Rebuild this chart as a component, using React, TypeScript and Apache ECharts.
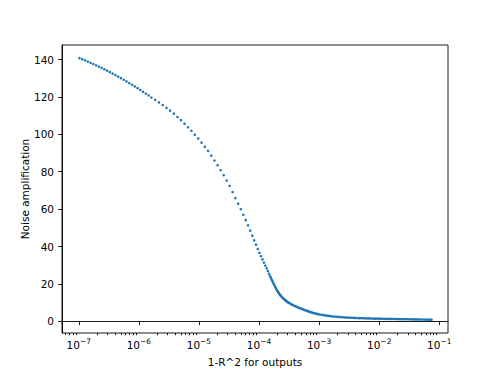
import { useEffect, useRef } from "react";
import * as echarts from "echarts";

// log10 of (1 - R^2)
const xLog10 = [
  -6.988, -6.942, -6.896, -6.850, -6.804, -6.758, -6.712, -6.666, -6.620, -6.574, -6.528, -6.482, -6.436,
  -6.390, -6.344, -6.298, -6.252, -6.206, -6.160, -6.114, -6.068, -6.022, -5.976, -5.930, -5.884, -5.838,
  -5.792, -5.728, -5.665, -5.602, -5.540, -5.479, -5.418, -5.358, -5.299, -5.240, -5.182, -5.125, -5.068,
  -5.012, -4.957, -4.902, -4.848, -4.795, -4.742, -4.690, -4.639, -4.588, -4.538, -4.489, -4.440, -4.392,
  -4.347, -4.303, -4.261, -4.221, -4.183, -4.147, -4.113, -4.081, -4.050, -4.021, -3.993, -3.967, -3.942,
  -3.918, -3.895, -3.873, -3.852, -3.832,
  -3.815, -3.803, -3.791, -3.779, -3.767, -3.755, -3.743, -3.731, -3.719, -3.707, -3.695, -3.683, -3.671,
  -3.659, -3.647, -3.635, -3.623, -3.611, -3.599, -3.587, -3.575, -3.563, -3.551, -3.539, -3.527, -3.515,
  -3.50, -3.48, -3.46, -3.44, -3.42, -3.40, -3.38, -3.36, -3.34, -3.32, -3.30, -3.28, -3.26, -3.24, -3.22,
  -3.20, -3.18, -3.16, -3.14, -3.12, -3.10, -3.08, -3.06, -3.04, -3.02,
  -2.99, -2.96, -2.93, -2.90, -2.87, -2.84, -2.81, -2.78, -2.75, -2.72, -2.69, -2.66, -2.63, -2.60, -2.57,
  -2.54, -2.51, -2.48, -2.45, -2.42, -2.39, -2.36, -2.33, -2.30, -2.27, -2.24, -2.21, -2.18, -2.15, -2.12,
  -2.09, -2.06, -2.03, -2.00, -1.97, -1.94, -1.91, -1.88, -1.85, -1.82, -1.79, -1.76, -1.73, -1.70, -1.67,
  -1.64, -1.61, -1.58, -1.55, -1.52, -1.49, -1.46, -1.43, -1.40, -1.37, -1.34, -1.31, -1.28, -1.25, -1.22,
  -1.19, -1.16, -1.13,
];

// Noise amplification
const noiseAmp = [
  140.8, 140.2, 139.58, 138.95, 138.3, 137.63, 136.95, 136.25, 135.53, 134.8, 134.05, 133.28, 132.5,
  131.7, 130.88, 130.05, 129.2, 128.33, 127.45, 126.55, 125.63, 124.7, 123.75, 122.78, 121.8, 120.8,
  119.7, 118.5, 117.1, 115.7, 114.2, 112.7, 111.1, 109.3, 107.6, 105.7, 103.8, 101.9, 99.8,
  97.8, 95.6, 93.4, 91.1, 88.6, 86.0, 83.5, 80.9, 78.2, 75.3, 72.4, 69.1, 65.9,
  62.9, 60.0, 57.0, 54.1, 51.3, 48.5, 45.8, 43.3, 41.0, 38.7, 36.6, 34.8, 33.1,
  31.4, 29.8, 28.3, 26.8, 25.4,
  24.1, 23.2, 22.4, 21.6, 20.8, 19.9, 19.2, 18.4, 17.7, 16.9, 16.3, 15.7, 15.1,
  14.5, 14.0, 13.6, 13.1, 12.7, 12.3, 11.9, 11.6, 11.3, 10.9, 10.7, 10.4, 10.1,
  9.8, 9.44, 9.08, 8.74, 8.42, 8.1, 7.82, 7.54, 7.27, 7.01, 6.75, 6.51, 6.27, 6.03, 5.79,
  5.55, 5.33, 5.11, 4.9, 4.7, 4.5, 4.32, 4.14, 3.98, 3.84,
  3.65, 3.48, 3.31, 3.15, 3.02, 2.89, 2.76, 2.66, 2.56, 2.46, 2.38, 2.3, 2.22, 2.15, 2.09,
  2.03, 1.97, 1.92, 1.87, 1.83, 1.79, 1.75, 1.71, 1.67, 1.64, 1.6, 1.57, 1.54, 1.51, 1.49,
  1.46, 1.44, 1.41, 1.39, 1.37, 1.35, 1.33, 1.31, 1.29, 1.27, 1.25, 1.24, 1.22, 1.2, 1.18,
  1.16, 1.14, 1.13, 1.11, 1.1, 1.08, 1.06, 1.04, 1.02, 1.01, 0.99, 0.97, 0.95, 0.93, 0.91,
  0.89, 0.87, 0.85,
];

const majorExponents = [-7, -6, -5, -4, -3, -2, -1];
const minorMultipliers = [2, 3, 4, 5, 6, 7, 8, 9];
const yTicks = [0, 20, 40, 60, 80, 100, 120, 140];
const xTitle = "1-R^2 for outputs";
const yTitle = "Noise amplification";

const X_MIN = -7.279;
const X_MAX = -0.855;
const Y_MIN = -6.26;
const Y_MAX = 147.8;

const FONT = "DejaVu Sans";

export default function App() {
  const ref = useRef<HTMLDivElement>(null);

  useEffect(() => {
    if (!ref.current) return;
    const chart = echarts.init(ref.current, null, { renderer: "svg" });

    const minorTicks: number[] = [];
    for (let e = -8; e <= 0; e++) {
      for (const m of minorMultipliers) {
        const v = e + Math.log10(m);
        if (v > X_MIN && v < X_MAX) minorTicks.push(v);
      }
    }

    const points = xLog10.map((x, i) => [x, noiseAmp[i]]);

    const lineStyle = { color: "#000", width: 0.9 };

    chart.setOption({
      animation: false,
      backgroundColor: "#fff",
      textStyle: { fontFamily: FONT },
      grid: {
        left: 62,
        right: 50,
        top: 45,
        bottom: 41,
        show: true,
        borderColor: "#000",
        borderWidth: 0.9,
        backgroundColor: "transparent",
        outerBoundsMode: "none",
      },
      xAxis: [
        {
          type: "value",
          min: X_MIN,
          max: X_MAX,
          position: "bottom",
          axisLine: { show: true, lineStyle },
          axisTick: { show: true, customValues: majorExponents, length: 3.8, lineStyle },
          splitLine: { show: false },
          axisLabel: {
            show: true,
            customValues: majorExponents,
            margin: 4,
            color: "#000",
            fontFamily: FONT,
            formatter: (v: number) => `{b|10}{s|\u2212${Math.abs(Math.round(v))}}`,
            rich: {
              b: { fontSize: 10.5, fontFamily: FONT, color: "#000" },
              s: { fontSize: 7.5, fontFamily: FONT, color: "#000", padding: [0, 0, 7, 0] },
            },
          },
          name: xTitle,
          nameLocation: "middle",
          nameGap: 23,
          nameMoveOverlap: false,
          nameTextStyle: { fontSize: 10.5, color: "#000", fontFamily: FONT },
        },
        {
          type: "value",
          min: X_MIN,
          max: X_MAX,
          position: "bottom",
          axisLine: { show: false },
          axisTick: { show: true, customValues: minorTicks, length: 2.2, lineStyle },
          axisLabel: { show: false },
          splitLine: { show: false },
        },
      ],
      yAxis: {
        type: "value",
        min: Y_MIN,
        max: Y_MAX,
        axisLine: { show: true, lineStyle },
        axisTick: { show: true, customValues: yTicks, length: 3.8, lineStyle },
        splitLine: { show: false },
        axisLabel: {
          show: true,
          customValues: yTicks,
          margin: 8,
          fontSize: 10.5,
          color: "#000",
          fontFamily: FONT,
        },
        name: yTitle,
        nameLocation: "middle",
        nameGap: 32,
        nameMoveOverlap: false,
        nameTextStyle: { fontSize: 10.5, color: "#000", fontFamily: FONT },
      },
      series: [
        {
          type: "scatter",
          xAxisIndex: 0,
          yAxisIndex: 0,
          data: points,
          symbol: "circle",
          symbolSize: 2.6,
          itemStyle: { color: "#1f77b4", opacity: 1 },
          silent: true,
        },
      ],
    });

    return () => chart.dispose();
  }, []);

  return (
    <div
      ref={ref}
      style={{ position: "fixed", left: 0, top: 0, width: 498, height: 374, background: "#fff" }}
    />
  );
}
